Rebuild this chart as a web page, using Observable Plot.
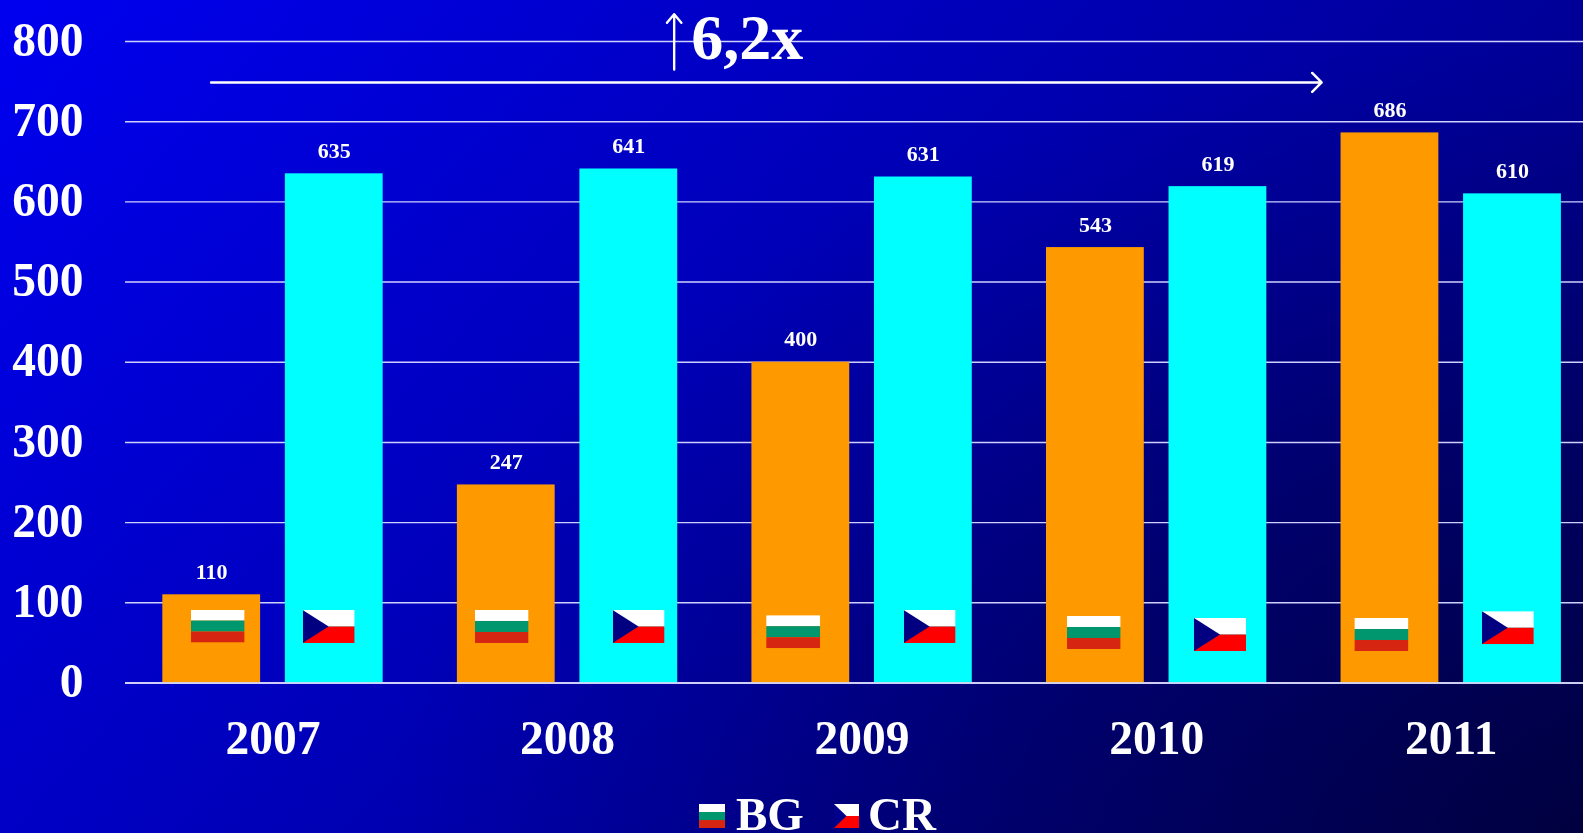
<!DOCTYPE html>
<html><head><meta charset="utf-8">
<script src="https://cdn.jsdelivr.net/npm/d3@7"></script>
<script src="https://cdn.jsdelivr.net/npm/@observablehq/plot@0.6"></script>
<style>
html,body{margin:0;padding:0;width:1583px;height:833px;overflow:hidden;}
body{background:
  radial-gradient(1200px 800px at 100% 100%,rgba(0,0,0,.42) 0%,rgba(0,0,0,.24) 49%,rgba(0,0,0,.1) 75%,rgba(0,0,0,0) 100%),
  linear-gradient(132deg,#0000f0 0%,#00006e 100%);
  position:relative;font-family:"Liberation Serif",serif;}
svg{display:block;}
#legend{position:absolute;left:0;top:790px;width:1583px;height:43px;overflow:hidden;color:#fff;font-size:47px;font-weight:bold;filter:blur(.4px);}
#legend span{position:absolute;top:6px;height:36px;line-height:36px;}
</style></head><body>
<div id="chart"></div>
<div id="legend"></div>
<script>
const years=[2007,2008,2009,2010,2011];
const bgValues=[110,247,400,543,686];
const crValues=[635,641,631,619,610];
const ticks=[0,100,200,300,400,500,600,700,800];
// flag anchor points, in the chart's own units
const bgFlagX=[2006.812,2007.776,2008.766,2009.786,2010.763];
const bgFlagY=[71,70.5,64,63,60.5];
const crFlagX=[2007.189,2008.241,2009.229,2010.215,2011.192];
const crFlagY=[70.5,70.5,70.5,60.5,69];

const bgFlagSvg=`<svg xmlns="http://www.w3.org/2000/svg" viewBox="0 0 3 3" preserveAspectRatio="none"><rect width="3" height="1" fill="#fff"/><rect y="1" width="3" height="1" fill="#00966e"/><rect y="2" width="3" height="1" fill="#d62612"/></svg>`;
const crFlagSvg=(blue)=>`<svg xmlns="http://www.w3.org/2000/svg" viewBox="0 0 6 4" preserveAspectRatio="none"><rect width="6" height="2" fill="#fff"/><rect y="2" width="6" height="2" fill="#f00"/><path d="M0 0L3 2L0 4Z" fill="${blue}"/></svg>`;
const uri=s=>"data:image/svg+xml;charset=utf-8,"+encodeURIComponent(s);

const bgRows=years.map((year,i)=>({year,value:bgValues[i],fx:bgFlagX[i],fy:bgFlagY[i]}));
const crRows=years.map((year,i)=>({year,value:crValues[i],fx:crFlagX[i],fy:crFlagY[i]}));
const offset=0.208,half=0.166;
const font="Liberation Serif";

const plot=Plot.plot({
  width:1583,height:790,marginLeft:125,marginRight:0,marginTop:41,marginBottom:107.5,
  style:{background:"transparent",fontFamily:font,color:"#fff",filter:"blur(.4px)"},
  x:{type:"linear",domain:[2006.5,2011.5],range:[125.2,1598]},
  y:{domain:[0,800]},
  marks:[
    Plot.ruleY(ticks,{stroke:"#d0d0ff",strokeWidth:1.4}),
    Plot.rectY(bgRows,{x1:d=>d.year-offset-half,x2:d=>d.year-offset+half,y:"value",fill:"#ff9900"}),
    Plot.rectY(crRows,{x1:d=>d.year+offset-half,x2:d=>d.year+offset+half,y:"value",fill:"#00ffff"}),
    Plot.ruleY([0],{stroke:"#e0e0ff",strokeWidth:1.5}),
    Plot.image(bgRows,{x:"fx",y:"fy",width:54,height:33,src:()=>uri(bgFlagSvg),preserveAspectRatio:"none"}),
    Plot.image(crRows,{x:"fx",y:"fy",width:52,height:33,src:()=>uri(crFlagSvg("#000080")),preserveAspectRatio:"none"}),
    Plot.text(bgRows,{x:d=>d.year-offset,y:"value",text:"value",dy:-23,fontSize:22,fontWeight:"bold",fill:"#fff"}),
    Plot.text(crRows,{x:d=>d.year+offset,y:"value",text:"value",dy:-23,fontSize:22,fontWeight:"bold",fill:"#fff"}),
    Plot.axisY(ticks,{anchor:"left",tickSize:0,tickPadding:42,dy:-1,fontSize:47.5,fontWeight:"bold",fill:"#fff",label:null}),
    Plot.axisX(years,{anchor:"bottom",tickSize:0,tickPadding:37,fontSize:47.5,fontWeight:"bold",fill:"#fff",label:null,tickFormat:d=>String(d)}),
    Plot.arrow([{x1:2006.79,x2:2010.56,y:749}],{x1:"x1",x2:"x2",y1:"y",y2:"y",stroke:"#fff",strokeWidth:2.5,headLength:8,headAngle:90,bend:0}),
    Plot.arrow([{x:2008.362,y1:765,y2:834}],{x:"x",y1:"y1",y2:"y2",stroke:"#fff",strokeWidth:2.4,headLength:7,headAngle:80,bend:0,clip:false}),
    Plot.text(["6,2x"],{x:2008.61,y:803.5,text:d=>d,fontSize:64,fontWeight:"bold",fill:"#fff"})
  ]
});
document.getElementById("chart").append(plot);

const legend=document.getElementById("legend");
legend.innerHTML=
  `<div style="position:absolute;left:699px;top:14px;width:26px;height:24px;background:url('${uri(bgFlagSvg)}') 0 0/100% 100%"></div>`+
  `<span style="left:736px">BG</span>`+
  `<div style="position:absolute;left:834px;top:14px;width:25px;height:24px;background:url('${uri(crFlagSvg("#00008c"))}') 0 0/100% 100%"></div>`+
  `<span style="left:868px">CR</span>`;
</script>
</body></html>
